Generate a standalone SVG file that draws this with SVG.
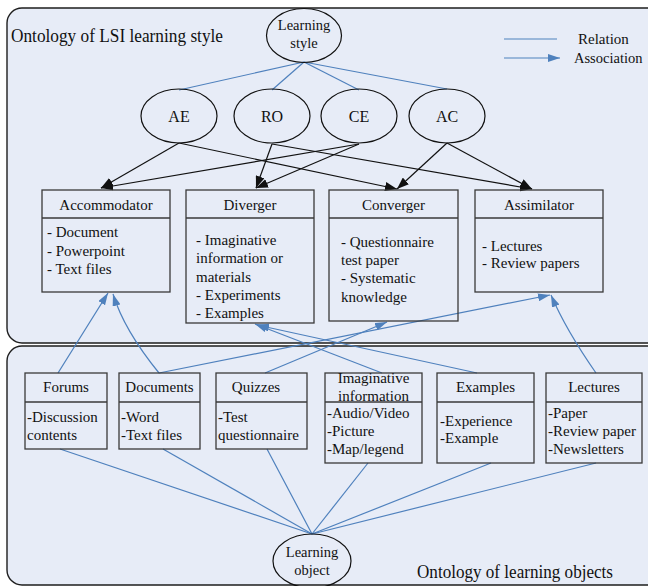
<svg xmlns="http://www.w3.org/2000/svg" width="648" height="586" viewBox="0 0 648 586">
  <style>
    text { font-family: 'Liberation Serif', 'DejaVu Serif', serif; fill: #111; }
    .panel { fill: #e7ecf7; stroke: #1e1e1e; stroke-width: 1.4; }
    .box { fill: none; stroke: #3a3a3a; stroke-width: 1.3; }
    .node { fill: none; stroke: #111; stroke-width: 1.2; }
    .t15 { font-size: 15px; }
    .t16 { font-size: 16px; }
    .tc { text-anchor: middle; }
    .cap { font-size: 19px; }
    .rel { stroke: #4f81bd; stroke-width: 1.2; fill: none; }
    .assoc { stroke: #4f81bd; stroke-width: 1.2; fill: none; marker-end: url(#blueHead); }
    .link { stroke: #111; stroke-width: 1.2; fill: none; marker-end: url(#blackHead); }
  </style>
  <defs>
    <marker id="blackHead" markerUnits="userSpaceOnUse" markerWidth="12" markerHeight="9" refX="12" refY="4.5" orient="auto">
      <path d="M0,0 L12,4.5 L0,9 z" fill="#111"/>
    </marker>
    <marker id="blueHead" markerUnits="userSpaceOnUse" markerWidth="12" markerHeight="8" refX="12" refY="4" orient="auto">
      <path d="M0,0 L12,4 L0,8 z" fill="#4f81bd"/>
    </marker>
  </defs>

  <rect width="648" height="586" fill="#fff"/>

  <!-- the two ontology panels -->
  <rect class="panel" x="7" y="8" width="660" height="335" rx="15"/>
  <rect class="panel" x="7" y="346" width="660" height="239" rx="15"/>
  <text class="cap" x="11" y="42" textLength="212" lengthAdjust="spacingAndGlyphs">Ontology of LSI learning style</text>
  <text class="cap" x="417" y="578" textLength="196" lengthAdjust="spacingAndGlyphs">Ontology of learning objects</text>

  <!-- legend -->
  <g id="legend">
    <line class="rel" x1="504" y1="39" x2="557" y2="39"/>
    <text class="t15" x="578" y="44">Relation</text>
    <line class="assoc" x1="504" y1="58" x2="560" y2="58"/>
    <text x="574" y="63" font-size="14.5">Association</text>
  </g>

  <!-- connectors -->
  <g id="connectors">
    <!-- learning style to dimensions -->
    <line class="rel" x1="304" y1="62" x2="179" y2="90"/>
    <line class="rel" x1="304" y1="62" x2="272" y2="90"/>
    <line class="rel" x1="304" y1="62" x2="359" y2="90"/>
    <line class="rel" x1="304" y1="62" x2="447" y2="89"/>
    <!-- dimensions to style types -->
    <line class="link" x1="179" y1="143" x2="101" y2="188"/>
    <line class="link" x1="179" y1="143" x2="397" y2="189"/>
    <line class="link" x1="272" y1="144" x2="256" y2="188"/>
    <line class="link" x1="272" y1="144" x2="532" y2="189"/>
    <line class="link" x1="359" y1="144" x2="101" y2="188"/>
    <line class="link" x1="359" y1="144" x2="256" y2="188"/>
    <line class="link" x1="447" y1="143" x2="397" y2="189"/>
    <line class="link" x1="447" y1="143" x2="532" y2="189"/>
    <!-- learning objects to style types -->
    <line class="assoc" x1="58" y1="373" x2="108" y2="293"/>
    <path class="assoc" d="M159,373 Q124,330 113,294"/>
    <line class="assoc" x1="159" y1="373" x2="550" y2="295"/>
    <line class="assoc" x1="265" y1="373" x2="387" y2="322"/>
    <line class="assoc" x1="382" y1="373" x2="255" y2="324"/>
    <line class="assoc" x1="477" y1="373" x2="257" y2="325"/>
    <path class="assoc" d="M596,373 Q566,330 551,295"/>
    <!-- learning objects to learning object root -->
    <line class="rel" x1="60" y1="449" x2="312" y2="534"/>
    <line class="rel" x1="163" y1="449" x2="312" y2="534"/>
    <line class="rel" x1="267" y1="449" x2="312" y2="534"/>
    <line class="rel" x1="368" y1="463" x2="312" y2="534"/>
    <line class="rel" x1="491" y1="463" x2="312" y2="534"/>
    <line class="rel" x1="596" y1="463" x2="312" y2="534"/>
  </g>

  <!-- root and dimension nodes -->
  <g id="learning-style">
    <ellipse class="node" cx="304" cy="35.5" rx="37.5" ry="27"/>
    <text class="tc" x="304" y="30" font-size="14.5">Learning</text>
    <text class="tc" x="304" y="48" font-size="14.5">style</text>
  </g>
  <g id="ae">
    <ellipse class="node" cx="179" cy="116" rx="38" ry="27"/>
    <text class="t16 tc" x="179" y="122">AE</text>
  </g>
  <g id="ro">
    <ellipse class="node" cx="272" cy="116" rx="38" ry="27"/>
    <text class="t16 tc" x="272" y="122">RO</text>
  </g>
  <g id="ce">
    <ellipse class="node" cx="359" cy="116" rx="38" ry="27"/>
    <text class="t16 tc" x="359" y="122">CE</text>
  </g>
  <g id="ac">
    <ellipse class="node" cx="447" cy="116" rx="38" ry="27"/>
    <text class="t16 tc" x="447" y="122">AC</text>
  </g>

  <!-- learning style types -->
  <g id="accommodator">
    <rect class="box" x="42" y="190" width="128" height="102"/>
    <line class="box" x1="42" y1="218" x2="170" y2="218"/>
    <text class="t15 tc" x="106" y="210">Accommodator</text>
    <text class="t15" x="47" y="237">- Document</text>
    <text class="t15" x="47" y="256">- Powerpoint</text>
    <text class="t15" x="47" y="274">- Text files</text>
  </g>
  <g id="diverger">
    <rect class="box" x="186" y="190" width="128" height="133"/>
    <line class="box" x1="186" y1="218" x2="314" y2="218"/>
    <text class="t15 tc" x="250" y="210">Diverger</text>
    <text class="t15" x="196" y="245">- Imaginative</text>
    <text class="t15" x="196" y="263">information or</text>
    <text class="t15" x="196" y="282">materials</text>
    <text class="t15" x="196" y="300">- Experiments</text>
    <text class="t15" x="196" y="318">- Examples</text>
  </g>
  <g id="converger">
    <rect class="box" x="329" y="190" width="129" height="131"/>
    <line class="box" x1="329" y1="218" x2="458" y2="218"/>
    <text class="t15 tc" x="393.5" y="210">Converger</text>
    <text class="t15" x="341" y="247">- Questionnaire</text>
    <text class="t15" x="341" y="265">test paper</text>
    <text class="t15" x="341" y="283">- Systematic</text>
    <text class="t15" x="341" y="302">knowledge</text>
  </g>
  <g id="assimilator">
    <rect class="box" x="475" y="190" width="128" height="102"/>
    <line class="box" x1="475" y1="218" x2="603" y2="218"/>
    <text class="t15 tc" x="539" y="210">Assimilator</text>
    <text class="t15" x="482" y="251">- Lectures</text>
    <text class="t15" x="482" y="268">- Review papers</text>
  </g>

  <!-- learning objects -->
  <g id="forums">
    <rect class="box" x="25" y="373" width="82" height="76"/>
    <line class="box" x1="25" y1="402" x2="107" y2="402"/>
    <text class="t15 tc" x="66" y="392">Forums</text>
    <text class="t15" x="27" y="422">-Discussion</text>
    <text class="t15" x="27" y="440">contents</text>
  </g>
  <g id="documents">
    <rect class="box" x="119" y="373" width="81" height="76"/>
    <line class="box" x1="119" y1="402" x2="200" y2="402"/>
    <text class="t15 tc" x="159.5" y="392">Documents</text>
    <text class="t15" x="121" y="422">-Word</text>
    <text class="t15" x="121" y="440">-Text files</text>
  </g>
  <g id="quizzes">
    <rect class="box" x="216" y="373" width="91" height="76"/>
    <line class="box" x1="216" y1="402" x2="307" y2="402"/>
    <text class="t15 tc" x="256" y="392">Quizzes</text>
    <text class="t15" x="218" y="422">-Test</text>
    <text class="t15" x="218" y="440">questionnaire</text>
  </g>
  <g id="imaginative-information">
    <rect class="box" x="325" y="373" width="97" height="90"/>
    <line class="box" x1="325" y1="402" x2="422" y2="402"/>
    <text class="t15 tc" x="373.5" y="383">Imaginative</text>
    <text class="t15 tc" x="373.5" y="401">information</text>
    <text class="t15" x="327" y="418">-Audio/Video</text>
    <text class="t15" x="327" y="436">-Picture</text>
    <text class="t15" x="327" y="454">-Map/legend</text>
  </g>
  <g id="examples">
    <rect class="box" x="437" y="373" width="97" height="90"/>
    <line class="box" x1="437" y1="402" x2="534" y2="402"/>
    <text class="t15 tc" x="485.5" y="392">Examples</text>
    <text class="t15" x="440" y="426">-Experience</text>
    <text class="t15" x="440" y="443">-Example</text>
  </g>
  <g id="lectures">
    <rect class="box" x="546" y="373" width="96" height="90"/>
    <line class="box" x1="546" y1="402" x2="642" y2="402"/>
    <text class="t15 tc" x="594" y="392">Lectures</text>
    <text class="t15" x="548" y="418">-Paper</text>
    <text class="t15" x="548" y="436">-Review paper</text>
    <text class="t15" x="548" y="454">-Newsletters</text>
  </g>

  <g id="learning-object">
    <ellipse class="node" cx="312" cy="561" rx="39" ry="27"/>
    <text class="tc" x="312" y="557" font-size="14.5">Learning</text>
    <text class="tc" x="312" y="575" font-size="14.5">object</text>
  </g>
</svg>
